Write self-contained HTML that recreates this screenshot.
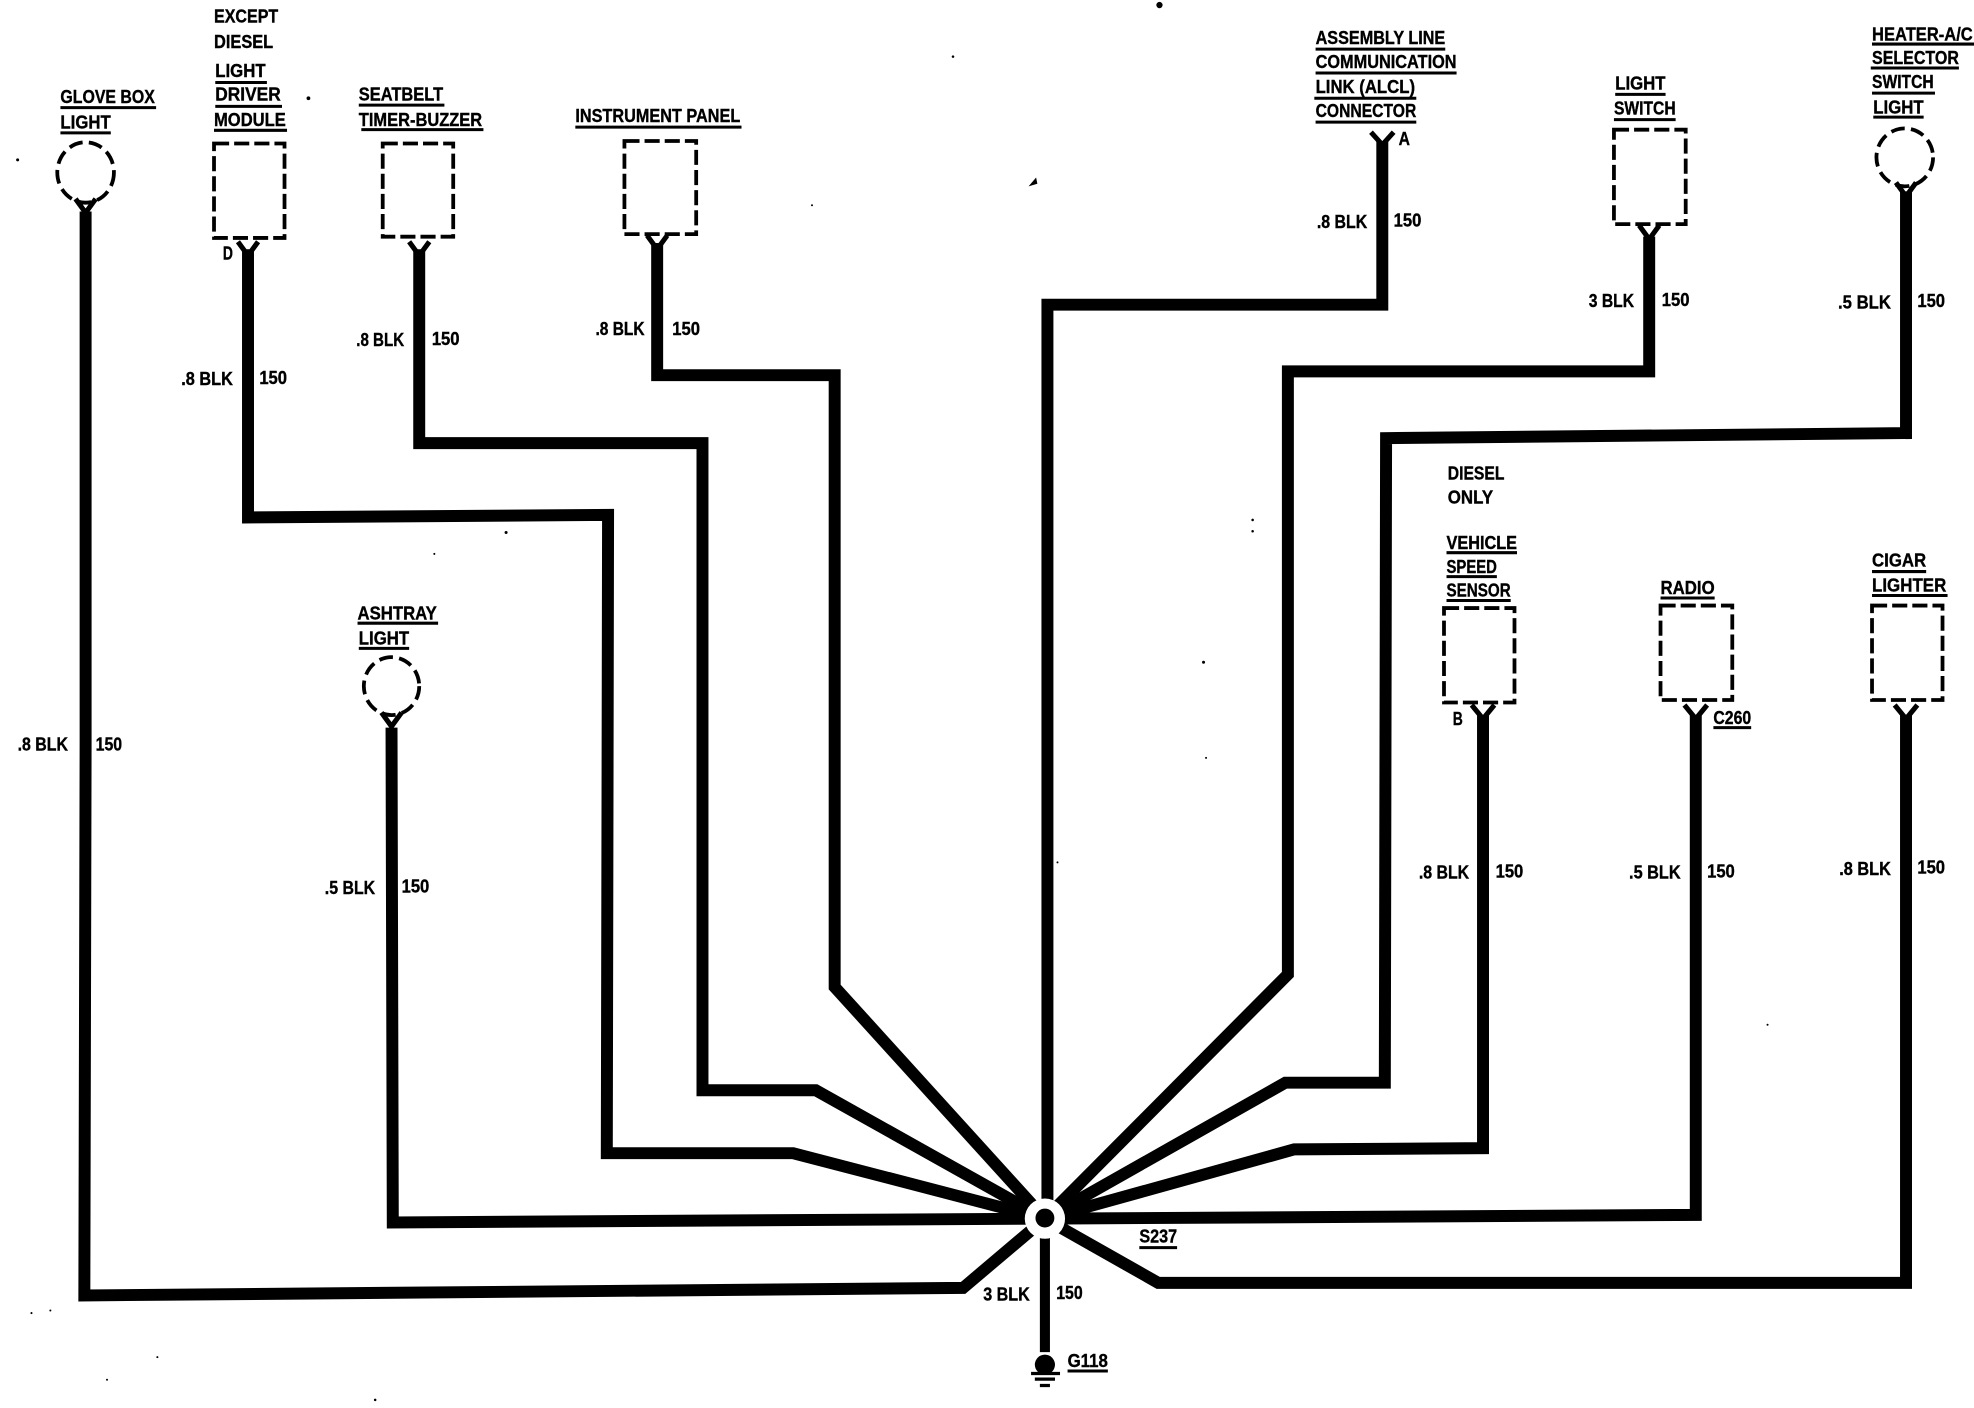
<!DOCTYPE html>
<html><head><meta charset="utf-8"><style>
html,body{margin:0;padding:0;background:#fff;width:1974px;height:1408px;overflow:hidden}
svg{display:block}
text{font-family:"Liberation Sans",sans-serif;font-weight:700;font-size:15px;fill:#000;stroke:#000;stroke-width:.3}
.w{fill:none;stroke:#000;stroke-width:9.5;stroke-linejoin:miter}
.u{stroke:#000;stroke-width:2.4}
.d{fill:none;stroke:#000;stroke-width:3;stroke-dasharray:12 4}
.f{fill:none;stroke:#000;stroke-width:4}
</style></head><body>
<svg width="1974" height="1408" viewBox="0 0 1568 1118.4" xmlns="http://www.w3.org/2000/svg">
<rect width="1568" height="1118.4" fill="#fff"/>
<!-- wires -->
<path class="w" d="M68 168V590L67 1029L765 1023L830 968"/>
<path class="w" d="M197 198V411L483 409L482 916H630L830 968"/>
<path class="w" d="M333 198V352H558V866H648L830 968"/>
<path class="w" d="M522 193V298H663V784L830 968"/>
<path class="w" d="M1098 112V242H832V968"/>
<path class="w" d="M1310 188V295H1023V774L830 968"/>
<path class="w" d="M1514 152V344L1101 348L1100 860H1021L830 968"/>
<path class="w" d="M1178 568V912L1028 913L830 968"/>
<path class="w" d="M1347 568V965L830 968"/>
<path class="w" d="M1514 568V1019H920L830 968"/>
<path class="w" d="M311 578L312 971L830 968"/>
<path class="w" style="stroke-width:8" d="M830 982V1074"/>
<!-- splice -->
<circle cx="830" cy="968" r="16" fill="#fff"/>
<circle cx="830" cy="967.5" r="7.5" fill="#000"/>
<!-- ground -->
<circle cx="830" cy="1084" r="8" fill="#000"/>
<path class="u" style="stroke-width:2.6" d="M819 1091H842M822 1095.500H838M826 1100.500H834"/>
<!-- forks -->
<path class="f" d="M60 158L68 169L76 158"/>
<path class="f" d="M189 192L197 203L205 192"/>
<path class="f" d="M325 192L333 203L341 192"/>
<path class="f" d="M514 187L522 198L530 187"/>
<path class="f" d="M1089 105L1098 115L1107 105"/>
<path class="f" d="M1302 179L1310 190L1318 179"/>
<path class="f" d="M1506 145L1514 156L1522 145"/>
<path class="f" d="M303 566L311 577L319 566"/>
<path class="f" d="M1169 560L1178 571L1187 560"/>
<path class="f" d="M1338 560L1347 571L1356 560"/>
<path class="f" d="M1505 560L1514 571L1523 560"/>
<!-- dashed devices -->
<rect class="d" x="170" y="114" width="56" height="75"/>
<rect class="d" x="304" y="114" width="56" height="74"/>
<rect class="d" x="496" y="112" width="57" height="74"/>
<rect class="d" x="1282" y="103" width="57" height="75"/>
<rect class="d" x="1147" y="483" width="56" height="75"/>
<rect class="d" x="1319" y="481" width="57" height="75"/>
<rect class="d" x="1487" y="481" width="56" height="75"/>
<ellipse class="d" cx="68" cy="137" rx="22.500" ry="24" style="stroke-dasharray:11 5"/>
<ellipse class="d" cx="1513" cy="125" rx="22.500" ry="23" style="stroke-dasharray:11 5"/>
<ellipse class="d" cx="311" cy="545" rx="22" ry="23" style="stroke-dasharray:11 5"/>
<!-- underlines -->
<path class="u" d="M48 85.500H124M48 105.500H88M171 65.500H212M171 84.500H224M170 103.500H228M285 83.500H353M287 103H384M457 101H589
M1045 39H1148M1045 58H1157M1044 78H1125M1045 97H1125M1283 75H1323M1282 95H1331M1487 35H1568M1486 54H1556M1487 74H1537M1488 93H1528
M284 495H348M285 515H325M1149 439H1205M1149 458H1189M1149 477H1200M1319 475H1362M1487 454H1530M1487 473H1547M1361 578H1391M905 991H935M848 1089H880"/>
<!-- labels -->
<text x="48" y="82" textLength="75" lengthAdjust="spacingAndGlyphs">GLOVE BOX</text>
<text x="48" y="102" textLength="40" lengthAdjust="spacingAndGlyphs">LIGHT</text>
<text x="170" y="18" textLength="51" lengthAdjust="spacingAndGlyphs">EXCEPT</text>
<text x="170" y="38" textLength="47" lengthAdjust="spacingAndGlyphs">DIESEL</text>
<text x="171" y="61" textLength="40" lengthAdjust="spacingAndGlyphs">LIGHT</text>
<text x="171" y="80" textLength="52" lengthAdjust="spacingAndGlyphs">DRIVER</text>
<text x="170" y="100" textLength="57" lengthAdjust="spacingAndGlyphs">MODULE</text>
<text x="285" y="80" textLength="67" lengthAdjust="spacingAndGlyphs">SEATBELT</text>
<text x="285" y="100" textLength="98" lengthAdjust="spacingAndGlyphs">TIMER-BUZZER</text>
<text x="457" y="97" textLength="131" lengthAdjust="spacingAndGlyphs">INSTRUMENT PANEL</text>
<text x="1045" y="35" textLength="103" lengthAdjust="spacingAndGlyphs">ASSEMBLY LINE</text>
<text x="1045" y="54" textLength="112" lengthAdjust="spacingAndGlyphs">COMMUNICATION</text>
<text x="1045" y="74" textLength="79" lengthAdjust="spacingAndGlyphs">LINK (ALCL)</text>
<text x="1045" y="93" textLength="80" lengthAdjust="spacingAndGlyphs">CONNECTOR</text>
<text x="1111" y="115" textLength="9" lengthAdjust="spacingAndGlyphs">A</text>
<text x="1283" y="71" textLength="40" lengthAdjust="spacingAndGlyphs">LIGHT</text>
<text x="1282" y="91" textLength="49" lengthAdjust="spacingAndGlyphs">SWITCH</text>
<text x="1487" y="32" textLength="80" lengthAdjust="spacingAndGlyphs">HEATER-A/C</text>
<text x="1487" y="51" textLength="69" lengthAdjust="spacingAndGlyphs">SELECTOR</text>
<text x="1487" y="70" textLength="49" lengthAdjust="spacingAndGlyphs">SWITCH</text>
<text x="1488" y="90" textLength="40" lengthAdjust="spacingAndGlyphs">LIGHT</text>
<text x="284" y="492" textLength="63" lengthAdjust="spacingAndGlyphs">ASHTRAY</text>
<text x="285" y="512" textLength="40" lengthAdjust="spacingAndGlyphs">LIGHT</text>
<text x="1150" y="381" textLength="45" lengthAdjust="spacingAndGlyphs">DIESEL</text>
<text x="1150" y="400" textLength="36" lengthAdjust="spacingAndGlyphs">ONLY</text>
<text x="1149" y="436" textLength="56" lengthAdjust="spacingAndGlyphs">VEHICLE</text>
<text x="1149" y="455" textLength="40" lengthAdjust="spacingAndGlyphs">SPEED</text>
<text x="1149" y="474" textLength="51" lengthAdjust="spacingAndGlyphs">SENSOR</text>
<text x="1319" y="472" textLength="43" lengthAdjust="spacingAndGlyphs">RADIO</text>
<text x="1487" y="450" textLength="43" lengthAdjust="spacingAndGlyphs">CIGAR</text>
<text x="1487" y="470" textLength="59" lengthAdjust="spacingAndGlyphs">LIGHTER</text>
<text x="1361" y="575" textLength="30" lengthAdjust="spacingAndGlyphs">C260</text>
<text x="1154" y="576" textLength="8" lengthAdjust="spacingAndGlyphs">B</text>
<text x="177" y="206" textLength="8" lengthAdjust="spacingAndGlyphs">D</text>
<text x="905" y="987" textLength="30" lengthAdjust="spacingAndGlyphs">S237</text>
<text x="848" y="1086" textLength="32" lengthAdjust="spacingAndGlyphs">G118</text>
<!-- wire labels -->
<text x="14" y="596" textLength="40" lengthAdjust="spacingAndGlyphs">.8 BLK</text>
<text x="76" y="596" textLength="21" lengthAdjust="spacingAndGlyphs">150</text>
<text x="144" y="306" textLength="41" lengthAdjust="spacingAndGlyphs">.8 BLK</text>
<text x="206" y="305" textLength="22" lengthAdjust="spacingAndGlyphs">150</text>
<text x="283" y="275" textLength="38" lengthAdjust="spacingAndGlyphs">.8 BLK</text>
<text x="343" y="274" textLength="22" lengthAdjust="spacingAndGlyphs">150</text>
<text x="473" y="266" textLength="39" lengthAdjust="spacingAndGlyphs">.8 BLK</text>
<text x="534" y="266" textLength="22" lengthAdjust="spacingAndGlyphs">150</text>
<text x="1046" y="181" textLength="40" lengthAdjust="spacingAndGlyphs">.8 BLK</text>
<text x="1107" y="180" textLength="22" lengthAdjust="spacingAndGlyphs">150</text>
<text x="1262" y="244" textLength="36" lengthAdjust="spacingAndGlyphs">3 BLK</text>
<text x="1320" y="243" textLength="22" lengthAdjust="spacingAndGlyphs">150</text>
<text x="1460" y="245" textLength="42" lengthAdjust="spacingAndGlyphs">.5 BLK</text>
<text x="1523" y="244" textLength="22" lengthAdjust="spacingAndGlyphs">150</text>
<text x="258" y="710" textLength="40" lengthAdjust="spacingAndGlyphs">.5 BLK</text>
<text x="319" y="709" textLength="22" lengthAdjust="spacingAndGlyphs">150</text>
<text x="1127" y="698" textLength="40" lengthAdjust="spacingAndGlyphs">.8 BLK</text>
<text x="1188" y="697" textLength="22" lengthAdjust="spacingAndGlyphs">150</text>
<text x="1294" y="698" textLength="41" lengthAdjust="spacingAndGlyphs">.5 BLK</text>
<text x="1356" y="697" textLength="22" lengthAdjust="spacingAndGlyphs">150</text>
<text x="1461" y="695" textLength="41" lengthAdjust="spacingAndGlyphs">.8 BLK</text>
<text x="1523" y="694" textLength="22" lengthAdjust="spacingAndGlyphs">150</text>
<text x="781" y="1033" textLength="37" lengthAdjust="spacingAndGlyphs">3 BLK</text>
<text x="839" y="1032" textLength="21" lengthAdjust="spacingAndGlyphs">150</text>
<!-- specks -->
<g fill="#000">
<circle cx="921" cy="4" r="2.500"/><circle cx="14" cy="127" r="1.200"/><circle cx="245" cy="78" r="1.500"/>
<path d="M817 148L823 141L824 146Z"/>
<circle cx="402" cy="423" r="1.200"/><circle cx="757" cy="45" r="1"/><circle cx="645" cy="163" r=".8"/>
<circle cx="956" cy="526" r="1.200"/><circle cx="958" cy="602" r=".8"/><circle cx="995" cy="413" r="1"/><circle cx="995" cy="422" r="1"/>
<circle cx="1404" cy="814" r=".8"/><circle cx="840" cy="685" r=".8"/><circle cx="25" cy="1043" r=".8"/><circle cx="40" cy="1041" r=".8"/>
<circle cx="125" cy="1078" r=".8"/><circle cx="298" cy="1112" r="1"/><circle cx="85" cy="1096" r=".8"/><circle cx="345" cy="440" r=".8"/>
</g>
</svg>
</body></html>
